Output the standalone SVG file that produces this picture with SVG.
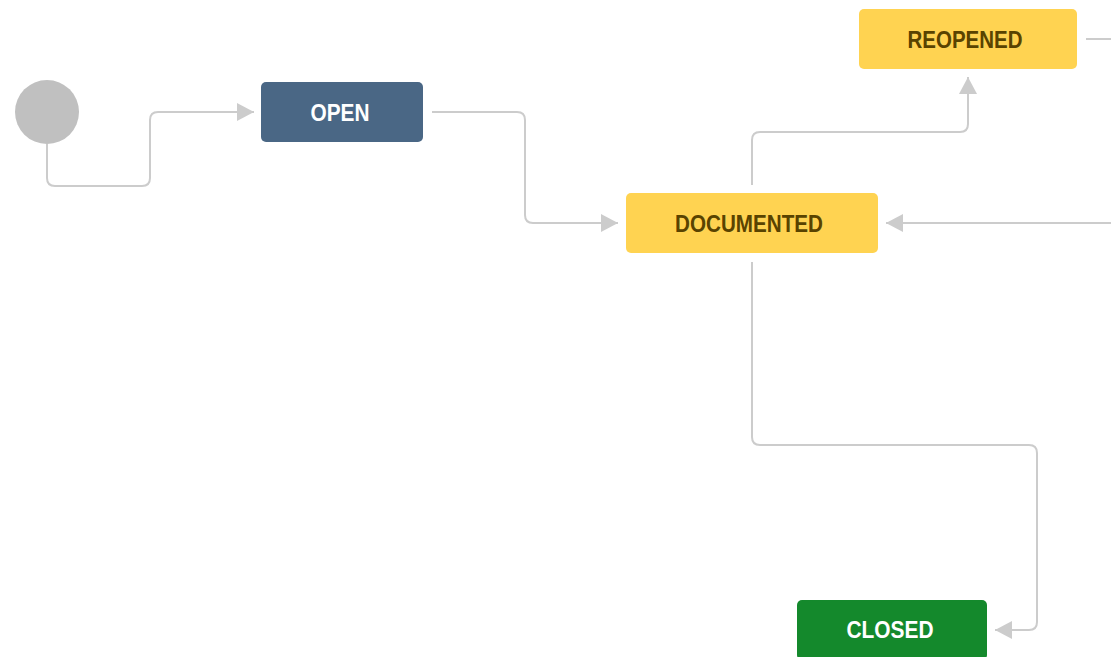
<svg xmlns="http://www.w3.org/2000/svg" width="1111" height="657" viewBox="0 0 1111 657">
<style>
.c{fill:none;stroke:#cccccc;stroke-width:2}
.t{font-family:"Liberation Sans",Arial,sans-serif;font-weight:bold;font-size:23px;text-anchor:middle}
.y{fill:#ffd351}
.yt{fill:#594300}
.wt{fill:#ffffff}
</style>
<defs>
<marker id="ah" viewBox="0 0 17 18" refX="17" refY="9" markerWidth="17" markerHeight="18" markerUnits="userSpaceOnUse" orient="auto">
<path d="M0,0 L17,9 L0,18 z" fill="#cccccc"/>
</marker>
</defs>
<rect width="1111" height="657" fill="#ffffff"/>
<g id="connectors">
<path class="c" d="M47,144 V178 Q47,186 55,186 H142 Q150,186 150,178 V120 Q150,112 158,112 H254" marker-end="url(#ah)"/>
<path class="c" d="M432,112 H517 Q525,112 525,120 V215 Q525,223 533,223 H618" marker-end="url(#ah)"/>
<path class="c" d="M752,185 V140 Q752,132 760,132 H960 Q968,132 968,124 V77" marker-end="url(#ah)"/>
<path class="c" d="M1111,223 H886" marker-end="url(#ah)"/>
<path class="c" d="M1086,39 H1111"/>
<path class="c" d="M752,262 V437 Q752,445 760,445 H1029 Q1037,445 1037,453 V622 Q1037,630 1029,630 H995" marker-end="url(#ah)"/>
</g>
<g id="start">
<circle cx="47" cy="112" r="32" fill="#c0c0c0"/>
</g>
<g id="open">
<rect x="261" y="82" width="162" height="60" rx="5" fill="#4a6785"/>
<text class="t wt" x="340" y="121" textLength="59" lengthAdjust="spacingAndGlyphs">OPEN</text>
</g>
<g id="documented">
<rect class="y" x="626" y="193" width="252" height="60" rx="5"/>
<text class="t yt" x="749" y="232" textLength="148" lengthAdjust="spacingAndGlyphs">DOCUMENTED</text>
</g>
<g id="reopened">
<rect class="y" x="859" y="9" width="218" height="60" rx="5"/>
<text class="t yt" x="965" y="48" textLength="115" lengthAdjust="spacingAndGlyphs">REOPENED</text>
</g>
<g id="closed">
<rect x="797" y="600" width="190" height="60" rx="5" fill="#14892c"/>
<text class="t wt" x="890" y="638" textLength="87" lengthAdjust="spacingAndGlyphs">CLOSED</text>
</g>
</svg>
